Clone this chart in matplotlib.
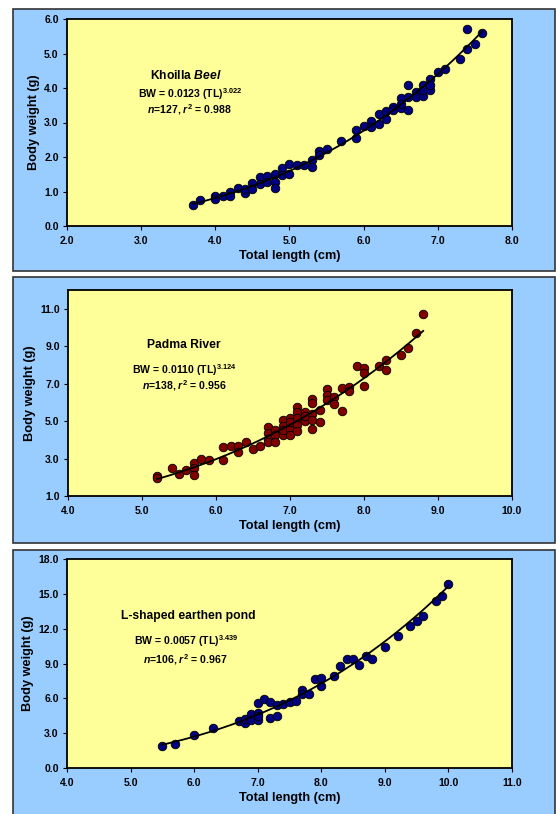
import numpy as np
import matplotlib
matplotlib.use("Agg")
import matplotlib.pyplot as plt
from matplotlib.patches import Rectangle

plt.rcParams['font.family'] = ['Liberation Sans', 'DejaVu Sans']
plt.rcParams['font.weight'] = 'bold'

# Khoilla Beel
kb_tl = [3.7, 3.8, 4.0, 4.0, 4.1, 4.2, 4.2, 4.3, 4.4, 4.4, 4.5, 4.5, 4.6, 4.6, 4.7, 4.7,
         4.8, 4.8, 4.8, 4.9, 4.9, 5.0, 5.0, 5.1, 5.2, 5.3, 5.3, 5.4, 5.4, 5.5, 5.7, 5.9,
         5.9, 6.0, 6.1, 6.1, 6.2, 6.2, 6.3, 6.3, 6.4, 6.4, 6.5, 6.5, 6.5, 6.6, 6.6, 6.6,
         6.7, 6.7, 6.8, 6.8, 6.8, 6.9, 6.9, 6.9, 7.0, 7.1, 7.3, 7.4, 7.4, 7.5, 7.6]
kb_bw = [0.62, 0.75, 0.86, 0.78, 0.86, 0.99, 0.87, 1.11, 0.96, 1.08, 1.24, 1.06, 1.42, 1.23, 1.45, 1.28,
         1.52, 1.28, 1.11, 1.68, 1.47, 1.79, 1.52, 1.78, 1.78, 1.91, 1.71, 2.18, 2.05, 2.22, 2.47, 2.78,
         2.56, 2.89, 3.05, 2.86, 3.24, 2.96, 3.33, 3.10, 3.44, 3.36, 3.72, 3.41, 3.55, 4.09, 3.75, 3.36,
         3.89, 3.75, 4.09, 3.77, 3.94, 4.26, 3.94, 4.09, 4.47, 4.54, 4.84, 5.71, 5.13, 5.27, 5.59]

# Padma River
pr_tl = [5.2, 5.2, 5.4, 5.5, 5.6, 5.7, 5.7, 5.7, 5.8, 5.9, 6.1, 6.1, 6.2, 6.3, 6.3, 6.4, 6.5, 6.6,
         6.7, 6.7, 6.7, 6.7, 6.8, 6.8, 6.8, 6.9, 6.9, 6.9, 6.9, 7.0, 7.0, 7.0, 7.0,
         7.1, 7.1, 7.1, 7.1, 7.1, 7.2, 7.2, 7.2, 7.3, 7.3, 7.3, 7.3, 7.3, 7.4, 7.4,
         7.5, 7.5, 7.5, 7.6, 7.6, 7.7, 7.7, 7.8, 7.8, 7.9, 8.0, 8.0, 8.0, 8.2, 8.3, 8.3,
         8.5, 8.6, 8.7, 8.8]
pr_bw = [2.05, 1.94, 2.47, 2.15, 2.39, 2.74, 2.47, 2.12, 2.95, 2.90, 3.60, 2.90, 3.68, 3.66, 3.36, 3.90, 3.50, 3.66,
         4.69, 4.34, 4.07, 3.86, 4.52, 4.25, 3.86, 5.05, 4.75, 4.25, 4.52, 5.14, 4.60, 4.25, 4.96,
         5.76, 5.49, 5.14, 4.78, 4.46, 5.49, 5.01, 5.28, 6.20, 5.94, 5.40, 5.05, 4.60, 5.58, 4.96,
         6.70, 6.38, 6.12, 6.28, 5.89, 6.79, 5.56, 6.81, 6.61, 7.95, 7.86, 7.57, 6.88, 7.95, 8.25, 7.71,
         8.55, 8.92, 9.72, 10.70]

# L-shaped earthen pond
lp_tl = [5.5, 5.7, 6.0, 6.3, 6.7, 6.8, 6.8, 6.9, 6.9, 7.0, 7.0, 7.0, 7.0, 7.1, 7.2, 7.2, 7.3, 7.3,
         7.4, 7.5, 7.6, 7.7, 7.7, 7.8, 7.9, 8.0, 8.0, 8.2, 8.3, 8.4, 8.5, 8.6, 8.7, 8.8,
         9.0, 9.2, 9.4, 9.5, 9.6, 9.8, 9.9, 10.0]
lp_bw = [1.87, 2.07, 2.84, 3.42, 4.08, 3.88, 4.22, 4.65, 4.16, 5.60, 4.74, 4.16, 4.45, 5.97, 5.66, 4.31, 5.43, 4.45,
         5.51, 5.68, 5.80, 6.75, 6.40, 6.37, 7.67, 7.75, 7.03, 7.95, 8.76, 9.42, 9.42, 8.90, 9.65, 9.42,
         10.40, 11.34, 12.26, 12.63, 13.12, 14.36, 14.80, 15.85]

# fitted coefficients printed on the chart
fit_a = [0.0123, 0.0110, 0.0057]
fit_b = [3.022, 3.124, 3.439]

titles = ['Khoilla $\\mathit{Beel}$', 'Padma River', 'L-shaped earthen pond']
eq_text = ['BW = 0.0123 (TL)$^{\\mathrm{3.022}}$', 'BW = 0.0110 (TL)$^{\\mathrm{3.124}}$',
           'BW = 0.0057 (TL)$^{\\mathrm{3.439}}$']
n_text = ['$\\mathit{n}$=127, $\\mathit{r}^{\\mathrm{2}}$ = 0.988',
          '$\\mathit{n}$=138, $\\mathit{r}^{\\mathrm{2}}$ = 0.956',
          '$\\mathit{n}$=106, $\\mathit{r}^{\\mathrm{2}}$ = 0.967']

W, H = 556, 814
fig = plt.figure(figsize=(W / 100, H / 100), dpi=100)
plt.rcParams['mathtext.fontset'] = 'custom'
plt.rcParams['mathtext.rm'] = 'Liberation Sans:bold'
plt.rcParams['mathtext.it'] = 'Liberation Sans:italic:bold'
plt.rcParams['mathtext.bf'] = 'Liberation Sans:bold'

def px_rect(l, t, r, b):
    return [l / W, 1 - b / H, (r - l) / W, (b - t) / H]

# panel boxes (blue background)
panels = [(13, 9, 555, 271), (13, 277, 555, 543), (13, 550, 555, 818)]
for l, t, r, b in panels:
    fig.patches.append(Rectangle((l / W, 1 - b / H), (r - l) / W, (b - t) / H,
                                 transform=fig.transFigure, facecolor='#99CCFF',
                                 edgecolor='#333333', linewidth=1.2, zorder=-5))

axes_px = [(67, 19, 512, 226), (68, 290, 512, 496), (67, 559, 512, 768)]
data = [(kb_tl, kb_bw), (pr_tl, pr_bw), (lp_tl, lp_bw)]
colors = ['#000080', '#800000', '#000080']
xlims = [(2, 8), (4, 10), (4, 11)]
ylims = [(0, 6), (1, 12), (0, 18)]
yticks = [np.arange(0, 6.1, 1), np.arange(1, 11.1, 2), np.arange(0, 18.1, 3)]
txt_pos = [(0.267, 0.725, 0.276, 0.638, 0.56),
           (0.26, 0.733, 0.263, 0.612, 0.534),
           (0.272, 0.727, 0.267, 0.608, 0.52)]

for i in range(3):
    ax = fig.add_axes(px_rect(*axes_px[i]))
    ax.set_zorder(2)
    ax.set_facecolor('#FFFF99')
    x, y = data[i]
    ax.scatter(x, y, s=38, color=colors[i], edgecolors='black', linewidths=0.6, zorder=3)
    xs = np.linspace(min(x), max(x), 200)
    ax.plot(xs, fit_a[i] * xs ** fit_b[i], color='black', lw=1.3, zorder=4)
    ax.set_xlim(*xlims[i])
    ax.set_ylim(*ylims[i])
    ax.set_xticks(np.arange(xlims[i][0], xlims[i][1] + 0.01, 1))
    ax.set_yticks(yticks[i])
    ax.xaxis.set_major_formatter(plt.FormatStrFormatter('%.1f'))
    ax.yaxis.set_major_formatter(plt.FormatStrFormatter('%.1f'))
    ax.tick_params(labelsize=7.5, direction='out', length=3, width=0.8)
    ax.tick_params(axis='x', pad=4)
    ax.tick_params(axis='y', pad=3)
    for lab in ax.get_xticklabels() + ax.get_yticklabels():
        lab.set_fontweight('bold')
    for sp in ax.spines.values():
        sp.set_linewidth(1.3)
    ax.set_xlabel('Total length (cm)', fontsize=9.2, fontweight='bold', labelpad=3)
    ax.set_ylabel('Body weight (g)', fontsize=9.2, fontweight='bold', labelpad=3)
    tx, ty, ex, ey, ny = txt_pos[i]
    ax.text(tx, ty, titles[i], transform=ax.transAxes, ha='center', va='center',
            fontsize=8.7, fontweight='bold')
    ax.text(ex, ey, eq_text[i], transform=ax.transAxes, ha='center', va='center',
            fontsize=7.6, fontweight='bold')
    ax.text(ex, ny, n_text[i], transform=ax.transAxes, ha='center', va='center',
            fontsize=7.6, fontweight='bold')

fig.savefig('out.png', dpi=100, facecolor='white')
